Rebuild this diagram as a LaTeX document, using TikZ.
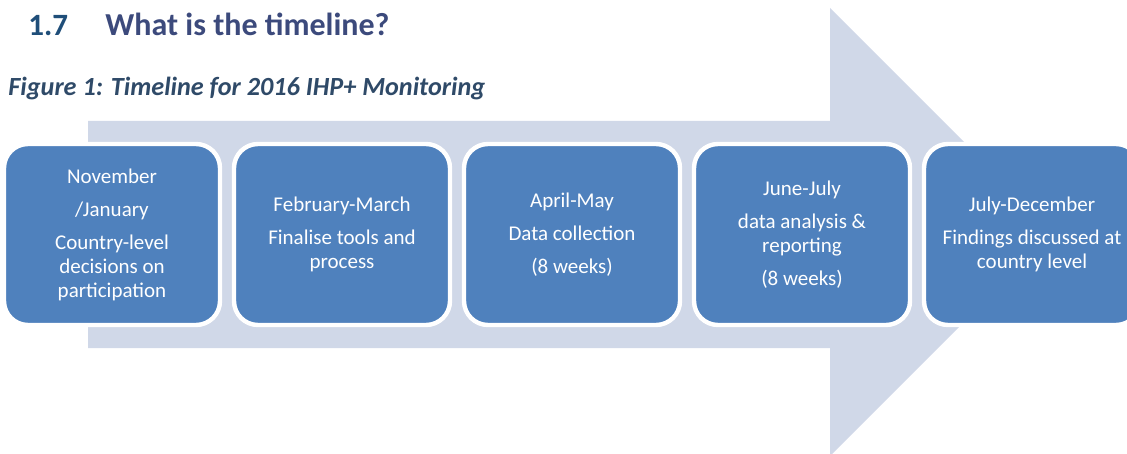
\documentclass[tikz,border=0pt]{standalone}
\usepackage{fontspec}
\setmainfont{Carlito}
\usetikzlibrary{positioning}

\definecolor{arrowgrey}{HTML}{D0D8E8}
\definecolor{boxblue}{HTML}{4F81BD}
\definecolor{numblue}{HTML}{1F4E79}
\definecolor{headblue}{HTML}{3C4A7C}
\definecolor{capblue}{HTML}{2F4A68}

\begin{document}
\begin{tikzpicture}[x=0.5pt, y=-0.5pt,
    phase/.style={rectangle, rounded corners=12pt, fill=boxblue, draw=white,
        line width=2.2pt, outer sep=0pt, minimum width=108pt, minimum height=90.5pt,
        text=white, align=center, font=\fontsize{10.5}{12}\selectfont}]
    \useasboundingbox (0,0) rectangle (1127,454);
    \clip (0,0) rectangle (1127,454);

    % Heading and caption
    \node[anchor=base west, inner sep=0pt, text=numblue, font=\fontsize{15.5}{18}\selectfont\bfseries] (num) at (28,36) {1.7};
    \node[anchor=base west, inner sep=0pt, text=headblue, font=\fontsize{16}{18}\selectfont\bfseries] (head) at (105,36) {What is the timeline?};
    \node[anchor=base west, inner sep=0pt, text=capblue, font=\fontsize{13.1}{15}\selectfont\bfseries\itshape] (cap) at (8,96) {Figure 1: Timeline for 2016 IHP+ Monitoring};

    % Big arrow
    \fill[arrowgrey] (88,121) -- (830,121) -- (830,8) -- (1054,232) -- (830,456) -- (830,348) -- (88,348) -- cycle;

    % Blocks
    \node[phase] (nov) at (112,234.5) {November\\[4.5pt] /January\\[4.5pt] Country-level\\ decisions on\\ participation};
    \node[phase, right=7pt of nov] (feb) {February-March\\[4.5pt] Finalise tools and\\ process};
    \node[phase, right=7pt of feb] (apr) {April-May\\[4.5pt] Data collection\\[4.5pt] (8 weeks)};
    \node[phase, right=7pt of apr] (jun) {June-July\\[4.5pt] data analysis \&\\ reporting\\[4.5pt] (8 weeks)};
    \node[phase, right=7pt of jun] (jul) {July-December\\[4.5pt] Findings discussed at\\ country level};
\end{tikzpicture}
\end{document}
